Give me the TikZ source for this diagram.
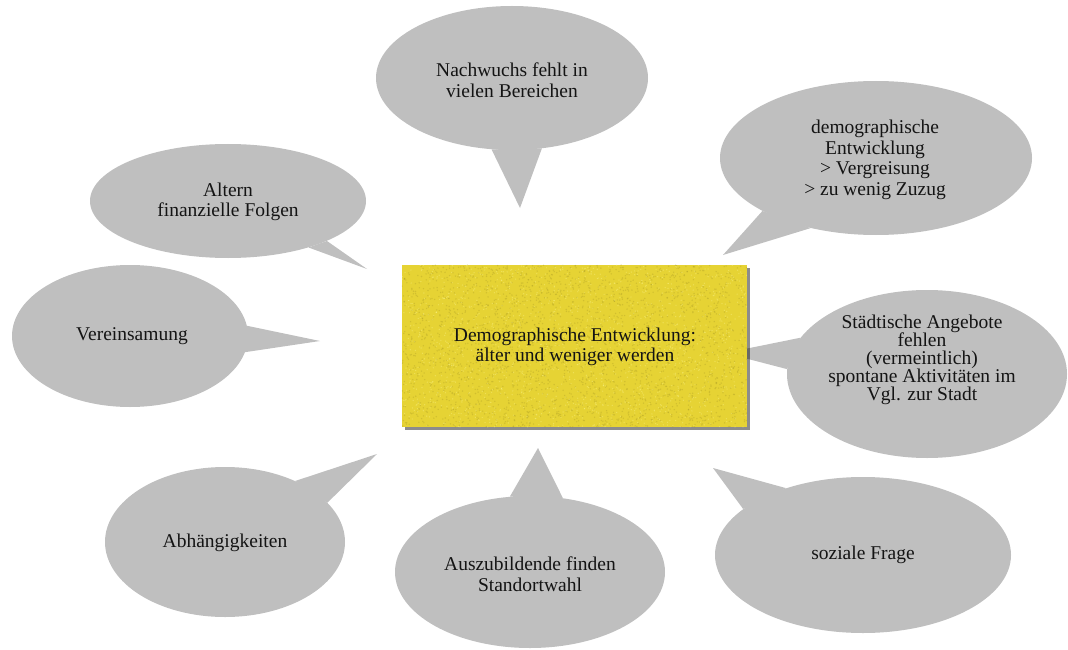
\documentclass[tikz,border=0pt]{standalone}
\usepackage{fontspec}
\setmainfont{Liberation Serif}
\usetikzlibrary{shapes.geometric,shadows}
\definecolor{bubblegray}{RGB}{191,191,191}
\definecolor{boxyellow}{RGB}{230,211,52}
\definecolor{inkdark}{RGB}{20,20,20}
\begin{document}
\begin{tikzpicture}[x=1pt,y=-1pt,
  bubble/.style={ellipse, fill=bubblegray, draw=none, inner sep=0pt},
  btext/.style={align=center, font=\fontsize{19.5}{20.5}\selectfont, text=inkdark, inner sep=0pt},
  tail/.style={fill=bubblegray, draw=none},
  speckdark/.style={fill=boxyellow!70!black, opacity=0.3},
  specklight/.style={fill=yellow!40!white, opacity=0.35},
  centerbox/.style={rectangle, fill=boxyellow, draw=none, inner sep=0pt,
    minimum width=345pt, minimum height=162pt,
    drop shadow={shadow xshift=3pt, shadow yshift=-3pt, fill=black, opacity=0.45}}]
\useasboundingbox (0,0) rectangle (1068,650);

% bubbles
\node[bubble, minimum width=272pt, minimum height=144pt] (b1) at (512,78) {};
\node[bubble, minimum width=312pt, minimum height=154pt] (b2) at (876,158) {};
\node[bubble, minimum width=276pt, minimum height=114pt] (b3) at (228,201) {};
\node[bubble, minimum width=236pt, minimum height=142pt] (b4) at (130,336) {};
\node[bubble, minimum width=280pt, minimum height=168pt] (b5) at (927,374) {};
\node[bubble, minimum width=240pt, minimum height=150pt] (b6) at (225,542) {};
\node[bubble, minimum width=270pt, minimum height=152pt] (b7) at (530,572) {};
\node[bubble, minimum width=296pt, minimum height=156pt] (b8) at (863,555) {};

% tail tips
\coordinate (p1) at (520,208);
\coordinate (p2) at (723,255);
\coordinate (p3) at (367,269);
\coordinate (p4) at (320,341);
\coordinate (p5) at (725,353);
\coordinate (p6) at (377,454);
\coordinate (p7) at (538,448);
\coordinate (p8) at (713,468);

% tails
\fill[tail] (b1.254) -- (p1) -- (b1.293) -- cycle;
\fill[tail] (b2.205) -- (p2) -- (b2.227) -- cycle;
\fill[tail] (b3.-30) -- (p3) -- (b3.-22) -- cycle;
\fill[tail] (b4.5) -- (p4) -- (b4.-8) -- cycle;
\fill[tail] (b5.164) -- (p5) -- (b5.178) -- cycle;
\fill[tail] (b6.41) -- (p6) -- (b6.21) -- cycle;
\fill[tail] (b7.105) -- (p7) -- (b7.66) -- cycle;
\fill[tail] (b8.139) -- (p8) -- (b8.159) -- cycle;

% texts
\node[btext] (t1) at (512,80) {Nachwuchs fehlt in\\vielen Bereichen};
\node[btext] (t2) at (875,160) {demographische\\Entwicklung\\> Vergreisung\\> zu wenig Zuzug};
\node[btext] (t3) at (228,202) {Altern\\finanzielle Folgen};
\node[btext] (t4) at (132,336) {Vereinsamung};
\node[btext, font=\fontsize{19.5}{18}\selectfont] (t5) at (922,360) {Städtische Angebote\\fehlen\\(vermeintlich)\\spontane Aktivitäten im\\Vgl. zur Stadt};
\node[btext] (t6) at (225,543) {Abhängigkeiten};
\node[btext] (t7) at (530,574) {Auszubildende finden\\Standortwahl};
\node[btext] (t8) at (863,555) {soziale Frage};

% central box with grainy texture
\node[centerbox] (c) at (574.5,346) {};
\begin{scope}
  \clip (c.north west) rectangle (c.south east);
  \pgfmathsetseed{7}
  \foreach \i in {1,...,2600} {
    \pgfmathsetmacro{\sx}{402+345*rnd}
    \pgfmathsetmacro{\sy}{265+162*rnd}
    \fill[speckdark] (\sx,\sy) circle[radius=0.8pt];
  }
  \foreach \i in {1,...,1600} {
    \pgfmathsetmacro{\sx}{402+345*rnd}
    \pgfmathsetmacro{\sy}{265+162*rnd}
    \fill[specklight] (\sx,\sy) circle[radius=0.7pt];
  }
\end{scope}
\node[btext] (ct) at (575,347) {Demographische Entwicklung:\\älter und weniger werden};
\end{tikzpicture}
\end{document}
